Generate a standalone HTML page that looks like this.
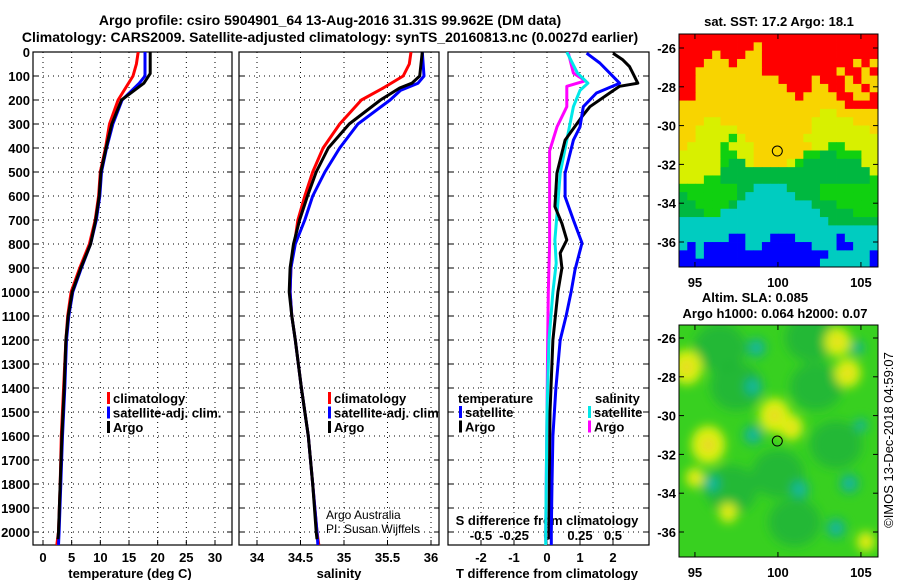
<!DOCTYPE html>
<html><head><meta charset="utf-8"><style>
html,body{margin:0;padding:0;background:#fff;width:900px;height:580px;overflow:hidden}
svg{display:block;font-family:"Liberation Sans",Arial,sans-serif}
.b{font-weight:bold;font-size:13px}
.grid{stroke:#000;stroke-width:1;stroke-dasharray:1,4}
</style></head><body>
<svg id="fig" width="900" height="580" viewBox="0 0 900 580">
<defs>
<clipPath id="c1"><rect x="33" y="52" width="199" height="493"/></clipPath>
<clipPath id="c2"><rect x="239" y="52" width="200" height="493"/></clipPath>
<clipPath id="c3"><rect x="448" y="52" width="201" height="493"/></clipPath>
<clipPath id="cm2"><rect x="679" y="325" width="199" height="232"/></clipPath>
<filter id="bl"><feGaussianBlur stdDeviation="5"/></filter>
</defs>
<text x="330" y="25" text-anchor="middle" class="b" style="font-size:14px">Argo profile: csiro 5904901_64 13-Aug-2016 31.31S 99.962E (DM data)</text>
<text x="330" y="42" text-anchor="middle" class="b" style="font-size:14px">Climatology: CARS2009. Satellite-adjusted climatology: synTS_20160813.nc (0.0027d earlier)</text>
<g id="root"></g>
</svg>
<script>
// ---------- data ----------
const depthTicks=[0,100,200,300,400,500,600,700,800,900,1000,1100,1200,1300,1400,1500,1600,1700,1800,1900,2000];
const tempTicks=[0,5,10,15,20,25,30];
const salTicks=[34,34.5,35,35.5,36];
const tdiffTicks=[-2,-1,0,1,2];
const sdiffTicks=[-0.5,-0.25,0,0.25,0.5];
const sdiffLabels=["-0.5","-0.25","0","0.25","0.5"];

const tClimDepth=[0,50,100,200,300,400,500,600,700,800,900,1000,1100,1200,1400,1600,1800,2000,2054];
const tClim=[16.6,16.3,15.7,13.1,11.6,10.9,10.0,9.7,9.1,8.1,6.4,4.9,4.3,4.0,3.6,3.2,3.0,2.7,2.4];
const tSatDepth=[0,100,130,200,300,400,500,600,700,800,900,1000,1100,1200,1400,1600,1800,2000,2054];
const tSat=[17.8,17.8,16.8,13.8,12.2,11.1,10.2,9.9,9.3,8.3,6.7,5.2,4.5,4.1,3.8,3.4,3.1,2.8,2.7];
const tArgoDepth=[0,90,130,200,300,400,500,600,700,800,900,1000,1100,1200,1400,1600,1800,2000,2030];
const tArgo=[18.7,18.7,17.6,13.7,12.0,11.0,10.1,9.8,9.2,8.3,6.6,5.1,4.4,4.0,3.7,3.3,3.0,2.7,2.6];

const sClimDepth=[0,50,100,150,200,300,400,500,600,700,800,900,1000,1100,1200,1400,1600,1800,2000,2054];
const sClim=[35.77,35.75,35.68,35.45,35.2,34.95,34.76,34.64,34.55,34.47,34.43,34.39,34.38,34.40,34.44,34.51,34.59,34.64,34.69,34.71];
const sSatDepth=[0,100,130,160,200,300,400,500,600,700,800,900,1000,1100,1200,1400,1600,1800,2000,2054];
const sSat=[35.9,35.92,35.85,35.65,35.53,35.16,34.95,34.78,34.64,34.55,34.44,34.39,34.38,34.40,34.44,34.51,34.59,34.64,34.69,34.70];
const sArgoDepth=[0,100,130,150,200,300,400,500,600,700,800,900,1000,1100,1200,1400,1600,1800,2000,2030];
const sArgo=[35.9,35.87,35.78,35.64,35.42,35.06,34.82,34.68,34.58,34.49,34.42,34.38,34.37,34.40,34.44,34.51,34.59,34.64,34.68,34.69];

const dTSatDepth=[5,46,88,130,171,228,312,367,505,603,700,796,908,1000,1100,1200,1400,1600,1800,2000,2054];
const dTSat=[1.2,1.6,1.9,2.2,1.5,1.1,1.0,0.8,0.55,0.55,0.8,1.06,0.85,0.73,0.58,0.4,0.27,0.18,0.15,0.13,0.13];
const dTArgoDepth=[5,33,61,88,130,143,171,228,269,367,505,644,714,783,838,900,1000,1200,1500,2000,2030];
const dTArgo=[2.0,2.3,2.5,2.6,2.75,2.2,1.9,1.3,1.06,0.55,0.3,0.24,0.45,0.6,0.4,0.45,0.33,0.18,0.09,0.06,0.06];
const dSArgoDepth=[0,88,120,143,228,312,412,600,800,1000,1200,1500,2000,2040];
const dSArgo=[0.16,0.2,0.29,0.15,0.15,0.076,0.02,0.02,0.02,0.01,0.005,0.0,-0.01,-0.01];
const dSSatDepth=[0,88,130,160,228,367,505,644,783,880,1000,1200,1500,2000,2054];
const dSSat=[0.15,0.23,0.31,0.25,0.2,0.15,0.1,0.08,0.06,0.07,0.045,0.015,0.0,-0.01,-0.01];

const sstRows=[
"RRRRRRRRRRRRRRRRRRRRRRRR",
"RRRRRRRRRYRRRRRRRRRRRRRR",
"RRRRYRRRYYRRRRRRRRRRRRRR",
"RRRYYYRYYYRRRRRRRRRRRYRY",
"RRYYYYYYYYRRRRRRRRRYRRYR",
"RRYYYYYYYYYYRRRRYRRRYRYY",
"RRYYYYYYYYYYYRRRYYRRYYRY",
"RRYYYYYYYYYYYYRYYYYRRYYR",
"YYYYYYYYYYYYYYYYYYYYRRRR",
"YYYYYYYYYYYYYYYYYLLYYYYY",
"YYYLLYYYYYYYYYYYLLLLLYYY",
"YYLLLLLYYYYYYYYYLLLLLLLY",
"YYLLLLGLYYYYYYYLLLLLLLLL",
"YLLLLGLLLYYYYYYYLLGGLLLL",
"LLLLLGGLLYYYYYYGGDDGGGLL",
"LLLLLGDDLYYYYLGDDDDDDDLL",
"LLLLLDDDDDDDDDDDDDDDDDDL",
"LLLGGDDDDDDDDDDDDDDDDDDG",
"GGGGGGGDDCCCCDDDDGGGGGGG",
"DGGGGGGDCCCCCCDDDGGGGGGG",
"DDGGGGDCCCCCCCCCDDDGGGGG",
"DDDGGCCCCCCCCCCCCDDDDGGG",
"CCCCCCCCCCCCCCCCCCDDDDDD",
"CCCCCCCCCCCCCCCCCCCCCCCC",
"CCCCCCBBCCCBBBCCCCCBCCCC",
"CBCBBBBBCCBBBBBBCCCBBCCC",
"BBCBBBBBBBBBBBBBBBCCCCCB",
"BBBBBBBBBBBBBBBBBCCCCCCB"];
const sstColors={R:"#ff0000",Y:"#f8d400",L:"#d8f000",G:"#10d010",D:"#00b840",C:"#00ccc0",B:"#0000ff"};

const slaLon=[94.5,95.8,99.8,100.8,104.2,103.6,98.7,98.5,98.5,96.0,101.3,104.3,103.5,105.0,97.0,105.3,95.0,104.8];
const slaLat=[-27.5,-31.5,-30.0,-30.6,-27.8,-26.2,-26.5,-28.5,-31.0,-33.5,-33.8,-33.5,-35.8,-30.5,-35.0,-36.5,-33.2,-26.5];
const slaVal=[0.9,1,0.9,0.6,0.7,0.7,-1,-1,-1,-1,-1,-1,-1,-0.7,0.4,0.4,0.4,-0.7];
const mapTicksLat=[-26,-28,-30,-32,-34,-36];
const mapTicksLon=[95,100,105];
const argoLon=99.962, argoLat=-31.31;

// ---------- helpers ----------
const NS="http://www.w3.org/2000/svg";
const root=document.getElementById('root');
function mk(tag,attrs,parent){const e=document.createElementNS(NS,tag);for(const k in attrs)e.setAttribute(k,attrs[k]);(parent||root).appendChild(e);return e;}
function txt(x,y,s,anchor,parent,extra){const t=mk('text',Object.assign({x:x,y:y,'text-anchor':anchor||'middle','class':'b'},extra||{}),parent);t.textContent=s;return t;}
const Y=d=>52+d*0.24;
const X1=v=>43+v*5.733;
const X2=v=>257+(v-34)*87;
const X3=v=>547+v*33;
const XS=v=>547+v*132;

function panel(x0,x1,xTicks,xf,name,yLabels){
  const g=mk('g',{});
  
  
  depthTicks.forEach(d=>{
    mk('line',{x1:x0,x2:x1,y1:Y(d),y2:Y(d),'class':'grid'},g);
    mk('line',{x1:x0,x2:x0+5,y1:Y(d),y2:Y(d),stroke:'#000'},g);
    mk('line',{x1:x1-5,x2:x1,y1:Y(d),y2:Y(d),stroke:'#000'},g);
    if(yLabels){const t=txt(x0-3,Y(d)+5,String(d),'end',g);}
  });
  xTicks.forEach(v=>{
    mk('line',{x1:xf(v),x2:xf(v),y1:52,y2:545,'class':'grid'},g);
    mk('line',{x1:xf(v),x2:xf(v),y1:545,y2:540,stroke:'#000'},g);
  });
  mk('rect',{x:x0,y:52,width:x1-x0,height:493,fill:'none',stroke:'#000','stroke-width':1.2},g);
  return g;
}
function line(xs,ds,xf,color,clip,name){
  const p=xs.map((v,i)=>xf(v).toFixed(1)+','+Y(ds[i]).toFixed(1)).join(' ');
  const e=mk('polyline',{points:p,fill:'none',stroke:color,'stroke-width':3,'stroke-linejoin':'round','clip-path':'url(#'+clip+')'});
  
  
  return e;
}
function legend(x,y,entries,clip,name){
  const g=mk('g',{'clip-path':clip?'url(#'+clip+')':''});
  
  
  entries.forEach((e,i)=>{
    const yy=y+i*14.5;
    mk('rect',{x:x,y:yy-6,width:3,height:12,fill:e[1]},g);
    txt(x+6,yy+5,e[0],'start',g);
  });
}

// ---------- panel 1 ----------
panel(33,232,tempTicks,X1,'temperature-panel',true);
tempTicks.forEach(v=>{const t=txt(X1(v),562,String(v),'middle');});
{const t=txt(130,578,'temperature (deg C)');}
line(tClim,tClimDepth,X1,'#ff0000','c1','temperature-climatology-line');
line(tSat,tSatDepth,X1,'#0000ff','c1','temperature-satellite-line');
line(tArgo,tArgoDepth,X1,'#000000','c1','temperature-argo-line');
legend(107,398,[['climatology','#ff0000'],['satellite-adj. clim.','#0000ff'],['Argo','#000']],'c1','temperature-legend');

// ---------- panel 2 ----------
panel(239,439,salTicks,X2,'salinity-panel',false);
salTicks.forEach(v=>{const t=txt(X2(v),562,String(v),'middle');});
{const t=txt(339,578,'salinity');}
line(sClim,sClimDepth,X2,'#ff0000','c2','salinity-climatology-line');
line(sSat,sSatDepth,X2,'#0000ff','c2','salinity-satellite-line');
line(sArgo,sArgoDepth,X2,'#000000','c2','salinity-argo-line');
legend(328,398,[['climatology','#ff0000'],['satellite-adj. clim.','#0000ff'],['Argo','#000']],'c2','salinity-legend');
{const g=mk('g',{});
 txt(326,519,'Argo Australia','start',g,{'class':'','font-size':'12'});
 txt(326,533,'PI: Susan Wijffels','start',g,{'class':'','font-size':'12'});}

// ---------- panel 3 ----------
panel(448,649,tdiffTicks,X3,'difference-panel',false);
tdiffTicks.forEach(v=>{const t=txt(X3(v),562,String(v),'middle');});
sdiffTicks.forEach((v,i)=>{const t=txt(XS(v),540,sdiffLabels[i],'middle');});
{const t=txt(547,525,'S difference from climatology');}
{const t=txt(547,578,'T difference from climatology');}
line(dSArgo,dSArgoDepth,XS,'#ff00ff','c3','sdiff-argo-line');
line(dSSat,dSSatDepth,XS,'#00e8e8','c3','sdiff-satellite-line');
line(dTArgo,dTArgoDepth,X3,'#000000','c3','tdiff-argo-line');
line(dTSat,dTSatDepth,X3,'#0000ff','c3','tdiff-satellite-line');
{const t=txt(458,403,'temperature','start');}
legend(459,412,[['satellite','#0000ff'],['Argo','#000']],null,'tdiff-legend');
{const t=txt(595,403,'salinity','start');}
legend(588,412,[['satellite','#00e8e8'],['Argo','#ff00ff']],null,'sdiff-legend');

// ---------- maps ----------
const MX=lon=>679+(lon-94.04)*16.6;
const MY1=lat=>48+(-26-lat)*19.4;
const MY2=lat=>338+(-26-lat)*19.4;
function mapAxes(y0,y1,MY,name,labelY){
  const g=mk('g',{});
  mapTicksLat.forEach(l=>{
    mk('line',{x1:679,x2:684,y1:MY(l),y2:MY(l),stroke:'#000'},g);
    mk('line',{x1:873,x2:878,y1:MY(l),y2:MY(l),stroke:'#000'},g);
    txt(676,MY(l)+5,String(l),'end',g);
  });
  mapTicksLon.forEach(l=>{
    mk('line',{x1:MX(l),x2:MX(l),y1:y0,y2:y0+5,stroke:'#000'},g);
    mk('line',{x1:MX(l),x2:MX(l),y1:y1-5,y2:y1,stroke:'#000'},g);
    txt(MX(l),labelY,String(l),'middle',g);
  });
  mk('rect',{x:679,y:y0,width:199,height:y1-y0,fill:'none',stroke:'#000'},g);
  mk('circle',{cx:MX(argoLon),cy:MY(argoLat),r:5,fill:'none',stroke:'#000','stroke-width':1},g);
}
{const g=mk('g',{});
 const cw=199/24,ch=233/28;
 sstRows.forEach((row,r)=>{for(let c=0;c<row.length;c++){
   mk('rect',{x:(679+c*cw).toFixed(2),y:(34+r*ch).toFixed(2),width:(cw+0.4).toFixed(2),height:(ch+0.4).toFixed(2),fill:sstColors[row[c]]},g);
 }});}
mapAxes(34,267,MY1,'sst-map-axes',287);
{const t=txt(779,26,'sat. SST: 17.2 Argo: 18.1');}
{const t=txt(755,302,'Altim. SLA: 0.085');}
{const t=txt(775,318,'Argo h1000: 0.064 h2000: 0.07');}
{const g=mk('g',{'clip-path':'url(#cm2)'});
 mk('rect',{x:679,y:325,width:199,height:232,fill:'#38d020'},g);
 const gb=mk('g',{filter:'url(#bl)'},g);
 [[97.5,-28.5],[102.3,-28.5],[101,-35.5],[97.2,-33.8],[103.5,-31.5],[100,-33],[96.5,-26.5],[102,-26]].forEach(p=>mk('ellipse',{cx:MX(p[0]),cy:MY2(p[1]),rx:26,ry:24,fill:'#20b438',opacity:0.85},gb));
 slaVal.forEach((v,i)=>{
   const cx=MX(slaLon[i]),cy=MY2(slaLat[i]);
   if(v>0){
     mk('ellipse',{cx:cx,cy:cy,rx:13*v+4,ry:15*v+4,fill:'#dcf010'},gb);
     mk('ellipse',{cx:cx,cy:cy,rx:5*v,ry:6*v,fill:'#f0c830'},gb);
   }else{
     mk('circle',{cx:cx,cy:cy,r:10*(-v),fill:'#16b070'},gb);
     mk('circle',{cx:cx,cy:cy,r:5*(-v),fill:'#18c0b0'},gb);
   }
 });}
mapAxes(325,557,MY2,'sla-map-axes',577);
{const t=txt(0,0,'©IMOS 13-Dec-2018 04:59:07','middle',null,{'class':'','font-size':'13',transform:'translate(893,440) rotate(-90)'});}
</script>
</body></html>
